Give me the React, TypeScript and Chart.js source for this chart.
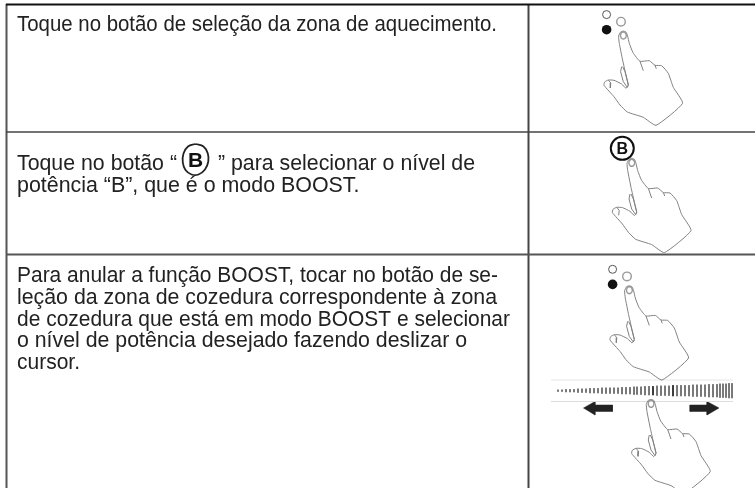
import React, { useEffect, useRef } from "react";
import { Chart, registerables } from "chart.js";

Chart.register(...registerables);

type P = [number, number];

const rowOneLines = ["Toque no botão de seleção da zona de aquecimento."];
const rowTwoStart = "Toque no botão “";
const rowTwoEnd = "” para selecionar o nível de";
const rowTwoNext = "potência “B”, que é o modo BOOST.";
const rowThreeLines = [
  "Para anular a função BOOST, tocar no botão de se-",
  "leção da zona de cozedura correspondente à zona",
  "de cozedura que está em modo BOOST e selecionar",
  "o nível de potência desejado fazendo deslizar o",
  "cursor.",
];
const badgeLetter = "B";

const handOutline: P[] = [
  [0, 0], [2.7, 1], [4.3, 5], [6, 12.3], [9.7, 21.7], [16.7, 30.3], [26, 29.7], [31.7, 34.3],
  [38.3, 34.7], [45, 42.3], [50, 56.3], [59.3, 72.3], [32.7, 94.3], [20, 86.3], [4, 81], [-3.3, 74],
  [-9.3, 65.7], [-19.3, 54.3], [-18.7, 51], [-15, 49], [-9.3, 49.3], [-1.7, 53], [2.7, 57.3], [5, 54],
  [2.7, 44], [-0.7, 29], [-4, 12.3], [-4.7, 5], [-2.7, 1], [0, 0],
];
const handCreaseA: P[] = [[16.7, 30.3], [20, 39.7]];
const handCreaseB: P[] = [[31.7, 34.3], [33, 37.7]];
const thumbNail: P[] = [[-15, 49], [-12.5, 52], [-13, 57]];
const sideMark: P[] = [[-1.7, 35.7], [-2.7, 40.7], [0, 50.7], [4, 56.3], [5, 54], [1.7, 40.7], [-0.7, 35.7]];
const fingerNail: P[] = [[-3, 4.5], [-1.5, 1.5], [1.5, 1.5], [3, 4.5], [1.5, 7.5], [-1.5, 7.5], [-3, 4.5]];

const handTips: P[] = [[623.3, 31], [631.7, 158.3], [629.3, 285.7], [651, 399.3]];
const dotGroups: P[] = [[623.3, 31], [629.3, 285.7]];
const openDot: P = [-16.7, -16.4];
const grayDot: P = [-2.3, -9.3];
const blackDot: P = [-16.7, -1.3];

const tableLines: { pts: P[]; color: string; width: number }[] = [
  { pts: [[6, 4.5], [755, 4.5]], color: "#111111", width: 2 },
  { pts: [[6, 132], [755, 132]], color: "#444444", width: 1.5 },
  { pts: [[6, 254.5], [755, 254.5]], color: "#555555", width: 2 },
  { pts: [[6.5, 4], [6.5, 488]], color: "#555555", width: 2 },
  { pts: [[528.5, 4], [528.5, 488]], color: "#444444", width: 2 },
];

const sliderTicksX = [
  558, 562, 566, 570, 574, 578, 582, 586, 590, 594, 598, 602, 606, 610, 614, 618, 622, 626, 630, 634, 637, 641, 645,
  649, 653, 657, 661, 665, 669, 673, 677, 681, 685, 689, 693, 697, 701, 705, 709, 713, 717, 720, 723, 726, 729, 732,
];
const sliderTicksH = [
  1, 1, 2, 2, 2, 3, 3, 3, 4, 4, 4, 5, 5, 5, 5, 5, 6, 6, 6, 7, 7, 7, 8, 8, 8, 9, 9, 9, 9, 10, 10, 10, 10, 10, 11, 11,
  11, 11, 12, 12, 12, 13, 13, 13, 14, 14,
];
const sliderDarkTickIndexes = [24, 29];
const sliderGuideTop: P[] = [[551, 380], [733, 380]];
const sliderGuideBottom: P[] = [[551, 401.5], [733, 401.5]];
const arrowLeft: P[] = [[583.5, 408], [595, 401.5], [595, 405], [612.5, 405], [612.5, 411.5], [595, 411.5], [595, 415], [583.5, 408]];
const arrowRight: P[] = [[719, 408], [707, 401.5], [707, 405], [690, 405], [690, 411.5], [707, 411.5], [707, 415], [719, 408]];
const badgeSmall: P = [622.3, 148.3];
const badgeLarge: P = [195.5, 159.5];
const badgeRing: P[] = [
  [0, -15.5], [8, -13], [12.3, -6], [12.8, 2], [9.5, 10], [3, 15], [-4, 15], [-10, 10.5], [-12.7, 3], [-12, -6], [-7.5, -13], [0, -15.5],
];

const xy = (pts: P[], o: P = [0, 0]) => pts.map(([x, y]) => ({ x: x + o[0], y: y + o[1] }));

const line = (pts: { x: number; y: number }[], color: string, width: number, extra: object = {}) => ({
  data: pts,
  showLine: true,
  borderColor: color,
  borderWidth: width,
  pointRadius: 0,
  clip: false,
  ...extra,
});

const dot = (p: P, radius: number, fill: string, stroke: string, width = 1) => ({
  data: [{ x: p[0], y: p[1] }],
  showLine: false,
  pointRadius: radius,
  pointBackgroundColor: fill,
  pointBorderColor: stroke,
  pointBorderWidth: width,
  clip: false,
});

const FONT = '"Liberation Sans", Arial, sans-serif';
const SIZE = 21.4;
const TEXT = "#222222";
// Chart.js insets the plot area by half the largest point size (radius + border), so the
// axis bounds are pulled in by the same amount to make one axis unit equal one pixel.
const INSET = 13.5;

const textPlugin = {
  id: "pageText",
  afterDatasetsDraw(chart: any) {
    const { ctx, scales } = chart;
    const put = (
      s: string,
      x: number,
      y: number,
      maxW?: number,
      font = `${SIZE}px ${FONT}`,
      align = "left",
      color = TEXT,
    ) => {
      ctx.font = font;
      ctx.textAlign = align;
      ctx.fillStyle = color;
      ctx.textBaseline = "alphabetic";
      const px = scales.x.getPixelForValue(x);
      const py = scales.y.getPixelForValue(y);
      if (maxW) ctx.fillText(s, px, py, maxW);
      else ctx.fillText(s, px, py);
    };
    ctx.save();
    put(rowOneLines[0], 17, 31, 480);
    put(rowTwoStart, 17, 170, 160);
    put(rowTwoEnd, 218, 170, 257);
    put(rowTwoNext, 17, 192, 343);
    const widths = [481, 480, 493, 450, 63];
    rowThreeLines.forEach((s, i) => put(s, 17, 282 + i * 21.8, widths[i]));
    put(badgeLetter, badgeLarge[0], badgeLarge[1] + 7.5, undefined, `bold 21px ${FONT}`, "center", "#111111");
    put(badgeLetter, badgeSmall[0], badgeSmall[1] + 5.5, undefined, `bold 16px ${FONT}`, "center", "#111111");
    ctx.restore();
  },
};

export default function App() {
  const ref = useRef<HTMLCanvasElement | null>(null);
  useEffect(() => {
    document.body.style.margin = "0";
    const handColor = "#808080";
    const datasets: any[] = [];
    tableLines.forEach((l) => datasets.push(line(xy(l.pts), l.color, l.width)));
    handTips.forEach((tip) => {
      datasets.push(line(xy(handOutline, tip), handColor, 1, { tension: 0.15 }));
      datasets.push(line(xy(handCreaseA, tip), handColor, 1));
      datasets.push(line(xy(handCreaseB, tip), handColor, 1));
      datasets.push(line(xy(thumbNail, tip), handColor, 1));
      datasets.push(line(xy(sideMark, tip), handColor, 1));
      datasets.push(line(xy(fingerNail, tip), "#999999", 1.4, { tension: 0.4 }));
    });
    dotGroups.forEach((o) => {
      datasets.push(dot([o[0] + openDot[0], o[1] + openDot[1]], 4, "#ffffff", "#555555", 1));
      datasets.push(dot([o[0] + grayDot[0], o[1] + grayDot[1]], 4.3, "#ffffff", "#999999", 1.4));
      datasets.push(dot([o[0] + blackDot[0], o[1] + blackDot[1]], 4.8, "#111111", "#111111", 0));
    });
    datasets.push(dot(badgeSmall, 11.5, "#ffffff", "#111111", 2));
    datasets.push(line(xy(badgeRing, badgeLarge), "#222222", 1.8, { tension: 0.4 }));
    datasets.push(line(xy(sliderGuideTop), "#e6e6e6", 1));
    datasets.push(line(xy(sliderGuideBottom), "#dddddd", 1));
    const tickPts: any[] = [];
    const darkPts: any[] = [];
    sliderTicksX.forEach((x, i) => {
      const h = sliderTicksH[i];
      const seg = [{ x, y: 390.7 - h / 2 - 0.5 }, { x, y: 390.7 + h / 2 + 0.5 }, { x: NaN, y: NaN }];
      (sliderDarkTickIndexes.includes(i) ? darkPts : tickPts).push(...seg);
    });
    datasets.push(line(tickPts, "#666666", 1, { spanGaps: false }));
    datasets.push(line(darkPts, "#222222", 1, { spanGaps: false }));
    datasets.push(line(xy(arrowLeft), "#222222", 0.5, { fill: "shape", backgroundColor: "#222222" }));
    datasets.push(line(xy(arrowRight), "#222222", 0.5, { fill: "shape", backgroundColor: "#222222" }));

    const chart = new Chart(ref.current as HTMLCanvasElement, {
      type: "scatter",
      data: { datasets },
      options: {
        animation: false,
        responsive: false,
        layout: { padding: 0 },
        plugins: { legend: { display: false }, tooltip: { enabled: false } },
        scales: {
          x: { type: "linear", display: false, min: INSET, max: 755 - INSET },
          y: { type: "linear", display: false, min: INSET, max: 488 - INSET, reverse: true },
        },
      },
      plugins: [textPlugin],
    } as any);
    return () => chart.destroy();
  }, []);
  return <canvas ref={ref} width={755} height={488} style={{ display: "block", background: "#ffffff" }} />;
}
